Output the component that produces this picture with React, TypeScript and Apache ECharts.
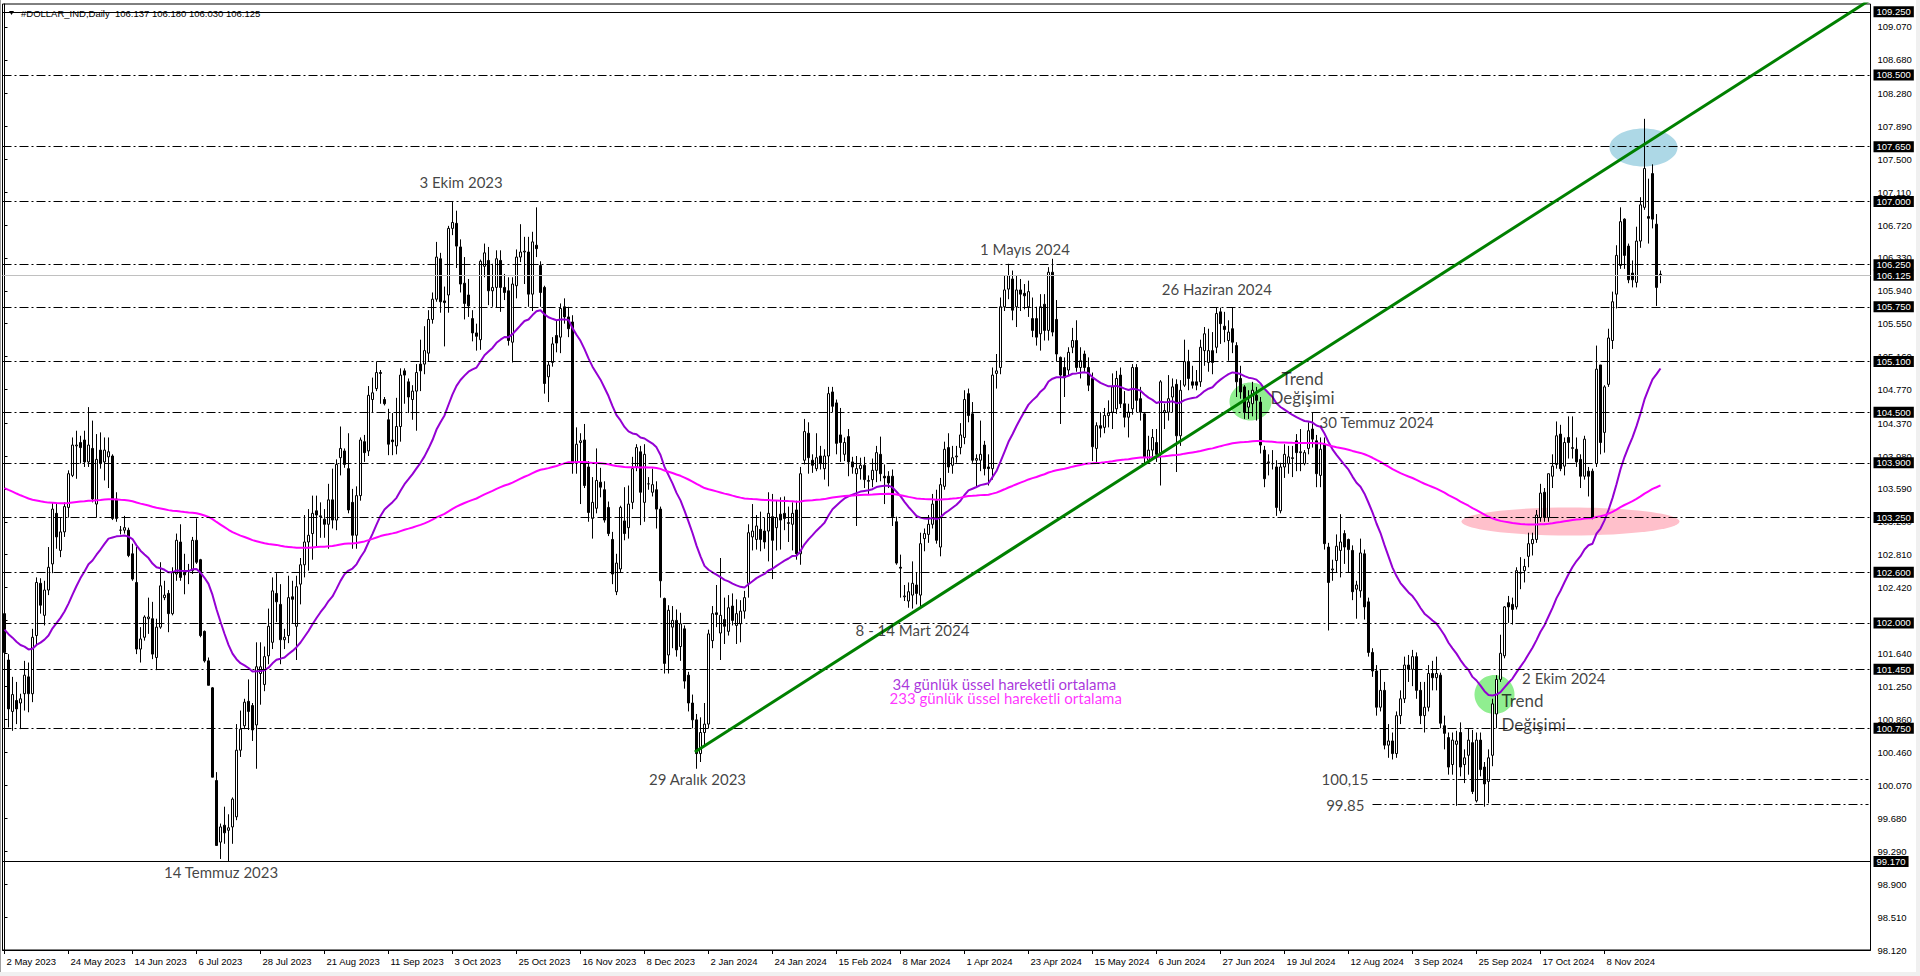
import React, { useEffect, useRef } from "react";
import * as echarts from "echarts";

// Daily bars [open, high, low, close], first bar = 2 May 2023
const bars2023a = [
  [102.11, 102.15, 101.59, 101.65], [101.56, 101.63, 100.76, 100.98], [100.95, 101.36, 100.72, 101.15], [101.08, 101.3, 100.8, 100.98],
  [101.05, 101.16, 100.74, 101.1], [101.16, 101.55, 100.96, 101.38], [101.36, 101.53, 100.94, 101.16], [101.16, 101.93, 101.06, 101.83],
  [101.85, 102.54, 101.75, 102.48], [102.47, 102.53, 102.11, 102.21], [102.09, 102.5, 101.97, 102.39], [102.39, 102.9, 102.33, 102.66],
  [102.7, 103.43, 102.59, 103.35], [103.3, 103.41, 102.88, 103.02], [102.86, 103.25, 102.78, 103.08], [103.08, 103.43, 103.02, 103.38],
  [103.37, 103.81, 103.25, 103.77], [103.75, 104.2, 103.73, 104.11], [104.1, 104.28, 103.71, 104.11], [104.14, 104.22, 103.89, 104.08],
  [104.17, 104.28, 103.85, 103.91], [103.91, 104.56, 103.85, 104.11], [104.07, 104.4, 103.43, 103.47], [103.41, 104.24, 103.25, 103.94],
  [104.05, 104.26, 103.83, 103.89], [103.91, 104.2, 103.69, 104.05], [103.97, 104.2, 103.6, 104.03], [103.98, 104.0, 103.22, 103.24],
  [103.47, 103.55, 103.2, 103.24], [103.1, 103.15, 103.05, 103.1], [103.1, 103.27, 103.06, 103.13], [103.1, 103.13, 102.78, 102.8],
  [102.82, 102.94, 102.5, 102.52], [102.48, 102.9, 101.63, 101.69], [101.69, 101.95, 101.53, 101.81], [101.83, 102.09, 101.79, 102.07],
  [102.05, 102.3, 101.87, 102.07], [102.05, 102.25, 101.57, 101.63], [101.59, 102.05, 101.44, 101.95], [101.95, 102.72, 101.93, 102.44],
  [102.3, 102.5, 102.27, 102.33], [102.35, 102.39, 101.89, 102.11], [102.11, 102.66, 102.09, 102.6], [102.58, 103.06, 102.5, 102.98],
  [102.96, 103.17, 102.5, 102.54], [102.6, 102.82, 102.34, 102.57], [102.62, 102.7, 102.46, 102.62], [102.62, 103.02, 102.58, 102.98],
  [102.98, 103.24, 102.7, 102.72], [102.75, 102.76, 101.83, 101.85], [101.9, 101.91, 101.53, 101.55], [101.55, 101.59, 101.26, 101.26],
  [101.23, 101.24, 100.17, 100.17], [100.13, 100.23, 99.36, 99.36], [99.4, 99.62, 99.2, 99.58], [99.6, 99.82, 99.38, 99.51],
  [99.54, 99.73, 99.17, 99.57], [99.58, 99.93, 99.38, 99.91], [99.7, 100.8, 99.66, 100.49], [100.49, 100.96, 100.41, 100.74],
  [100.78, 101.1, 100.74, 101.06], [101.07, 101.33, 100.73, 100.95],
];
const bars2023b = [
  [101.02, 101.05, 100.6, 100.73], [100.79, 101.77, 100.27, 101.48], [101.4, 101.77, 101.03, 101.48], [101.27, 101.72, 101.19, 101.6],
  [101.61, 102.17, 101.51, 101.96], [101.77, 102.54, 101.69, 102.38], [102.35, 102.59, 102.01, 102.25], [102.22, 102.46, 101.51, 101.8],
  [101.8, 101.93, 101.69, 101.83], [101.85, 102.56, 101.76, 102.3], [102.31, 102.5, 102.0, 102.28], [101.96, 102.56, 101.56, 102.43],
  [102.46, 102.77, 102.22, 102.69], [102.69, 103.28, 102.54, 102.96], [102.96, 103.35, 102.62, 103.04], [103.06, 103.51, 102.75, 103.3],
  [103.33, 103.51, 102.91, 103.28], [103.27, 103.43, 103.01, 103.26], [103.23, 103.35, 103.01, 103.17], [103.17, 103.65, 102.88, 103.46],
  [103.46, 103.83, 103.12, 103.22], [103.22, 103.94, 103.1, 103.88], [103.96, 104.33, 103.75, 104.07], [104.04, 104.07, 103.84, 103.88],
  [103.83, 104.25, 103.3, 103.34], [103.43, 103.59, 102.88, 103.04], [103.04, 103.62, 102.88, 103.51], [103.51, 104.2, 103.45, 104.17],
  [104.15, 104.23, 103.91, 104.02], [104.04, 104.81, 103.98, 104.7], [104.65, 104.91, 104.49, 104.73], [104.78, 105.1, 104.75, 104.97],
  [104.97, 105.0, 104.6, 104.96], [104.65, 104.68, 104.58, 104.6], [104.41, 104.54, 103.99, 104.12], [104.17, 104.49, 103.99, 104.15],
  [104.1, 104.67, 104.0, 104.33], [104.33, 105.02, 104.15, 104.94], [104.99, 105.02, 104.6, 104.94], [104.86, 104.9, 104.49, 104.68],
  [104.65, 104.82, 104.41, 104.75], [104.75, 105.07, 104.28, 104.97], [105.07, 105.36, 104.75, 104.99], [105.07, 105.52, 104.95, 105.23],
  [105.2, 105.71, 105.1, 105.6], [105.6, 105.92, 105.55, 105.84], [105.84, 106.52, 105.81, 106.34], [106.32, 106.39, 105.68, 105.81],
  [105.82, 105.99, 105.28, 105.8], [105.89, 106.71, 105.68, 106.68], [106.68, 107.0, 106.6, 106.75], [106.74, 106.89, 106.21, 106.47],
  [106.46, 106.55, 105.92, 106.02], [106.03, 106.34, 105.6, 105.79], [105.89, 106.08, 105.63, 105.76], [105.61, 105.71, 105.34, 105.44],
  [105.44, 105.55, 105.23, 105.4], [105.36, 106.31, 105.24, 106.29], [106.23, 106.5, 106.1, 106.39], [106.3, 106.46, 105.77, 105.94],
];
const bars2023c = [
  [105.94, 106.26, 105.75, 105.98], [105.98, 106.42, 105.74, 106.32], [106.3, 106.42, 105.69, 105.98], [105.98, 106.14, 105.83, 105.92],
  [105.94, 106.1, 105.29, 105.35], [105.33, 106.1, 105.09, 106.02], [106.0, 106.43, 105.85, 106.34], [106.34, 106.73, 106.28, 106.4],
  [106.4, 106.58, 106.02, 106.41], [106.4, 106.58, 105.75, 105.9], [105.9, 106.64, 105.7, 106.52], [106.48, 106.93, 106.34, 106.44],
  [106.24, 106.29, 105.75, 105.92], [105.98, 106.0, 104.72, 104.84], [104.92, 105.1, 104.62, 105.06], [105.09, 105.39, 105.04, 105.31],
  [105.41, 105.59, 105.21, 105.32], [105.39, 105.79, 105.2, 105.73], [105.75, 105.85, 105.55, 105.63], [105.63, 105.75, 105.39, 105.49],
  [105.57, 105.65, 103.77, 103.89], [103.9, 104.32, 103.77, 104.12], [104.14, 104.25, 103.41, 104.16], [104.17, 104.36, 103.6, 103.63],
  [103.85, 103.92, 103.2, 103.31], [103.24, 103.73, 103.0, 103.43], [103.36, 104.07, 103.3, 103.69], [103.67, 103.84, 103.49, 103.61],
  [103.58, 103.68, 103.19, 103.22], [103.37, 103.44, 103.03, 103.06], [102.99, 103.08, 102.46, 102.58], [102.37, 102.82, 102.33, 102.71],
  [102.64, 103.39, 102.6, 103.37], [103.21, 103.61, 102.98, 103.06], [103.13, 103.63, 103.0, 103.41], [103.43, 103.97, 103.35, 103.83],
  [103.85, 104.12, 103.8, 104.08], [104.03, 104.1, 103.16, 103.55], [103.43, 104.12, 103.2, 104.0], [103.65, 103.73, 103.58, 103.65],
  [103.55, 103.83, 103.5, 103.64], [103.58, 103.68, 103.12, 103.35], [103.35, 103.38, 102.3, 102.5], [102.29, 102.3, 101.4, 101.52],
  [101.62, 102.21, 101.4, 102.15], [101.95, 102.2, 101.7, 102.03], [102.03, 102.16, 101.6, 101.68], [101.72, 102.12, 101.55, 101.99],
  [101.93, 101.97, 101.22, 101.31], [101.38, 101.42, 100.95, 101.05], [101.05, 101.15, 100.75, 100.85], [100.85, 100.92, 100.27, 100.45],
  [100.45, 100.88, 100.35, 100.7], [100.7, 101.05, 100.55, 100.8], [100.8, 101.92, 100.75, 101.87], [101.79, 102.2, 101.7, 102.11],
  [102.12, 102.45, 101.95, 102.1],
];
const bars2024a = [
  [101.88, 102.77, 101.56, 102.09], [102.04, 102.3, 101.75, 101.96], [101.9, 102.33, 101.85, 102.18], [102.2, 102.35, 101.97, 102.03],
  [101.97, 102.28, 101.75, 102.11], [101.99, 102.27, 101.77, 102.14], [102.14, 102.38, 102.05, 102.3], [102.47, 103.17, 102.3, 103.07],
  [103.02, 103.41, 102.86, 103.09], [102.99, 103.28, 102.87, 103.15], [103.11, 103.32, 102.85, 102.99], [103.09, 103.25, 102.88, 102.96],
  [103.09, 103.55, 102.73, 103.3], [103.26, 103.53, 102.52, 102.98], [103.13, 103.45, 102.86, 103.25], [103.29, 103.49, 102.87, 103.22],
  [103.3, 103.5, 103.1, 103.24], [103.18, 103.38, 102.96, 103.19], [103.17, 103.43, 102.86, 103.3], [103.34, 103.45, 102.75, 102.82],
  [102.82, 103.85, 102.69, 103.77], [103.93, 104.42, 103.88, 104.27], [104.25, 104.38, 103.77, 103.96], [103.93, 104.0, 103.78, 103.87],
  [103.83, 104.25, 103.8, 103.96], [103.98, 104.1, 103.82, 103.89], [103.83, 104.06, 103.7, 103.98], [103.98, 104.8, 103.62, 104.72],
  [104.74, 104.8, 104.5, 104.57], [104.61, 104.65, 104.0, 104.13], [104.23, 104.55, 103.91, 104.14], [104.0, 104.2, 103.92, 104.14],
  [104.21, 104.3, 103.74, 103.91], [103.91, 103.97, 103.77, 103.85], [103.77, 103.98, 103.15, 103.83], [103.83, 103.96, 103.7, 103.87],
  [103.87, 103.97, 103.6, 103.7], [103.68, 103.75, 103.53, 103.69], [103.7, 103.95, 103.61, 103.81], [103.81, 104.1, 103.67, 104.02],
  [104.0, 104.21, 103.68, 103.77], [103.74, 103.88, 103.41, 103.72], [103.74, 103.8, 103.6, 103.66], [103.74, 103.82, 103.15, 103.26],
  [103.2, 103.26, 102.69, 102.71], [102.66, 102.81, 102.3, 102.65], [102.31, 102.45, 102.26, 102.32], [102.26, 102.48, 102.18, 102.37],
  [102.33, 102.73, 102.17, 102.47], [102.45, 102.6, 102.22, 102.35], [102.33, 103.07, 102.18, 102.94], [103.0, 103.12, 102.85, 103.06],
  [103.05, 103.28, 102.95, 103.17], [103.17, 103.53, 103.12, 103.41], [103.45, 103.58, 102.94, 102.98], [102.9, 103.72, 102.79, 103.64],
  [103.62, 104.15, 103.58, 104.06], [104.08, 104.25, 103.78, 103.85], [103.87, 104.1, 103.77, 103.96], [103.97, 104.1, 103.9, 103.98],
  [104.08, 104.37, 104.0, 104.23],
];
const bars2024b = [
  [104.2, 104.76, 104.12, 104.65], [104.72, 104.78, 104.38, 104.46], [104.48, 104.62, 103.9, 103.93], [103.93, 104.0, 103.6, 103.95],
  [103.93, 104.4, 103.8, 104.0], [104.11, 104.16, 103.75, 103.83], [103.85, 104.0, 103.63, 103.83], [103.83, 105.03, 103.7, 104.94],
  [104.96, 105.19, 104.78, 104.99], [105.03, 105.86, 104.95, 105.75], [105.75, 106.12, 105.7, 105.95], [105.96, 106.26, 105.84, 106.12],
  [106.08, 106.18, 105.59, 105.71], [105.75, 106.12, 105.51, 105.95], [105.95, 106.08, 105.7, 105.9], [105.91, 106.02, 105.72, 105.88],
  [105.75, 106.06, 105.63, 105.93], [105.61, 105.86, 105.39, 105.47], [105.61, 105.75, 105.29, 105.39], [105.43, 105.9, 105.23, 105.75],
  [105.78, 105.9, 105.35, 105.47], [105.47, 106.22, 105.35, 106.16], [106.16, 106.32, 105.4, 105.45], [105.6, 105.83, 105.1, 105.19],
  [105.15, 105.16, 104.36, 104.94], [105.03, 105.15, 104.68, 104.91], [105.0, 105.27, 104.93, 105.21], [105.27, 105.5, 105.2, 105.35],
  [105.35, 105.59, 104.98, 105.03], [105.03, 105.27, 104.9, 105.11], [105.19, 105.23, 104.98, 105.03], [105.03, 105.15, 104.75, 104.82],
  [104.9, 104.97, 103.92, 104.09], [104.07, 104.38, 103.91, 104.34], [104.34, 104.5, 104.2, 104.31], [104.32, 104.55, 104.25, 104.46],
  [104.46, 104.64, 104.32, 104.49], [104.5, 104.96, 104.3, 104.8], [104.54, 104.99, 104.48, 104.9], [104.94, 105.03, 104.55, 104.6],
  [104.6, 104.75, 104.32, 104.44], [104.44, 104.6, 104.2, 104.5], [104.54, 105.07, 104.47, 105.03], [105.03, 105.07, 104.5, 104.64],
  [104.66, 104.8, 104.4, 104.5], [104.48, 104.5, 103.89, 103.97], [103.93, 104.22, 103.89, 104.05], [104.05, 104.3, 103.97, 104.2],
  [104.14, 104.3, 103.91, 104.0], [104.0, 104.88, 103.63, 104.86], [104.5, 104.6, 104.3, 104.52], [104.5, 104.94, 104.4, 104.66],
  [104.68, 104.9, 104.5, 104.8], [104.83, 104.89, 103.79, 104.22], [104.22, 104.88, 104.1, 104.76], [104.82, 105.36, 104.8, 105.1],
  [105.1, 105.24, 104.76, 104.9], [104.86, 105.05, 104.78, 104.82], [104.86, 105.0, 104.76, 104.82], [104.86, 105.36, 104.8, 105.27],
];
const bars2024c = [
  [105.23, 105.51, 105.05, 105.43], [105.09, 105.49, 104.98, 105.23], [105.23, 105.45, 104.95, 105.09], [105.27, 105.74, 105.2, 105.67],
  [105.69, 105.74, 105.31, 105.55], [105.52, 105.69, 105.33, 105.48], [105.35, 105.59, 105.11, 105.45], [105.49, 105.74, 105.2, 105.33],
  [105.29, 105.33, 104.68, 104.86], [104.9, 105.05, 104.66, 104.74], [104.8, 104.82, 104.42, 104.5], [104.56, 104.76, 104.42, 104.62],
  [104.6, 104.86, 104.45, 104.76], [104.7, 104.8, 104.4, 104.64], [104.62, 104.68, 104.01, 104.11], [104.05, 104.1, 103.61, 103.71],
  [103.9, 104.0, 103.75, 103.91], [103.89, 104.05, 103.82, 103.89], [103.85, 103.93, 103.27, 103.37], [103.33, 103.9, 103.3, 103.85],
  [103.85, 104.12, 103.72, 104.0], [103.89, 104.1, 103.77, 103.97], [103.95, 104.1, 103.73, 103.96], [104.16, 104.24, 103.8, 104.02],
  [104.02, 104.3, 103.8, 104.03], [103.89, 104.05, 103.87, 104.02], [104.07, 104.38, 104.0, 104.28], [104.3, 104.5, 104.08, 104.18],
  [104.16, 104.23, 103.61, 103.77], [103.75, 104.2, 103.61, 104.06], [104.12, 104.2, 102.87, 102.94], [102.9, 102.95, 101.91, 102.48],
  [102.63, 102.75, 102.5, 102.64], [102.74, 103.05, 102.6, 102.91], [102.86, 103.29, 102.54, 102.96], [103.06, 103.1, 102.7, 102.9],
  [102.99, 103.0, 102.6, 102.87], [102.86, 102.92, 102.27, 102.37], [102.4, 102.5, 102.05, 102.45], [102.38, 103.0, 102.3, 102.83],
  [102.82, 102.87, 102.04, 102.19], [102.25, 102.3, 101.6, 101.65], [101.65, 101.7, 101.36, 101.43], [101.43, 101.5, 100.9, 101.0],
  [101.0, 101.45, 100.95, 101.2], [101.2, 101.3, 100.5, 100.55], [100.55, 100.8, 100.4, 100.6], [100.6, 100.7, 100.38, 100.45],
  [100.45, 100.95, 100.4, 100.9], [100.9, 101.2, 100.8, 101.1], [101.1, 101.6, 101.05, 101.5], [101.5, 101.62, 101.3, 101.45],
  [101.45, 101.68, 101.25, 101.6], [101.6, 101.65, 101.1, 101.2], [101.2, 101.3, 100.8, 100.9], [100.9, 101.3, 100.7, 101.0],
  [101.0, 101.5, 100.95, 101.4], [101.4, 101.55, 101.2, 101.35], [101.35, 101.6, 101.2, 101.4],
];
const bars2024d = [
  [101.38, 101.41, 100.75, 100.81], [100.78, 100.9, 100.5, 100.69], [100.64, 100.7, 100.2, 100.29], [100.32, 100.7, 100.2, 100.61],
  [100.56, 100.72, 99.83, 100.6], [100.7, 100.82, 100.18, 100.29], [100.32, 100.5, 100.1, 100.4], [100.43, 100.75, 100.2, 100.61],
  [100.58, 100.73, 99.97, 100.0], [99.89, 100.7, 99.87, 100.61], [100.61, 100.7, 100.18, 100.26], [100.29, 100.35, 99.82, 100.09],
  [100.12, 100.5, 99.86, 100.4], [100.43, 101.1, 100.3, 101.04], [100.92, 101.38, 100.75, 101.33], [101.33, 101.86, 101.3, 101.64],
  [101.61, 102.2, 101.58, 102.19], [102.24, 102.32, 102.0, 102.19], [102.22, 102.3, 101.98, 102.16], [102.19, 102.66, 102.16, 102.62],
  [102.59, 102.78, 102.4, 102.6], [102.62, 102.76, 102.48, 102.67], [102.79, 103.07, 102.66, 102.94], [102.94, 103.07, 102.8, 102.99],
  [102.99, 103.34, 102.95, 103.28], [103.25, 103.65, 103.2, 103.54], [103.55, 103.6, 103.2, 103.25], [103.25, 103.77, 103.2, 103.77],
  [103.74, 104.0, 103.6, 103.86], [103.88, 104.39, 103.83, 104.22], [104.24, 104.35, 103.8, 103.83], [103.86, 104.2, 103.75, 104.14],
  [104.2, 104.45, 103.95, 104.14], [104.07, 104.45, 103.95, 104.08], [104.06, 104.2, 103.85, 103.91], [103.94, 104.0, 103.6, 103.74],
  [103.74, 104.22, 103.7, 104.18], [103.8, 103.85, 103.5, 103.74], [103.8, 103.83, 103.23, 103.25], [103.89, 105.29, 103.85, 105.01],
  [105.06, 105.06, 104.0, 104.14], [104.26, 104.82, 104.02, 104.8], [104.83, 105.49, 104.8, 105.38], [105.35, 105.93, 105.25, 105.81],
  [105.9, 106.48, 105.73, 106.36], [106.24, 106.93, 106.2, 106.76], [106.79, 106.8, 106.2, 106.36], [106.47, 106.5, 106.03, 106.07],
  [106.15, 106.3, 105.98, 106.07], [106.04, 106.7, 105.98, 106.53], [106.53, 107.05, 106.45, 106.96], [106.93, 107.98, 106.9, 107.39],
  [106.82, 107.27, 106.5, 106.8], [107.33, 107.44, 106.68, 106.79], [106.73, 106.85, 105.76, 105.98], [106.137, 106.18, 106.03, 106.125],
];

// Bottom axis labels, one every 16 bars
const tickLabels = [
  "2 May 2023", "24 May 2023", "14 Jun 2023", "6 Jul 2023", "28 Jul 2023", "21 Aug 2023", "11 Sep 2023",
  "3 Oct 2023", "25 Oct 2023", "16 Nov 2023", "8 Dec 2023", "2 Jan 2024", "24 Jan 2024", "15 Feb 2024",
  "8 Mar 2024", "1 Apr 2024", "23 Apr 2024", "15 May 2024", "6 Jun 2024", "27 Jun 2024", "19 Jul 2024",
  "12 Aug 2024", "3 Sep 2024", "25 Sep 2024", "17 Oct 2024", "8 Nov 2024",
];
const scaleTicks = [
  98.12, 98.51, 98.9, 99.29, 99.68, 100.07, 100.46, 100.86, 101.25, 101.64, 102.03, 102.42, 102.81, 103.2, 103.59,
  103.98, 104.37, 104.77, 105.16, 105.55, 105.94, 106.33, 106.72, 107.11, 107.5, 107.89, 108.28, 108.68, 109.07,
];
const hiddenScaleLabels = [102.03];
const dashDotLevels = [108.5, 107.65, 107.0, 106.25, 105.75, 105.1, 104.5, 103.9, 103.25, 102.6, 102.0, 101.45, 100.75];
const solidLevels = [109.25, 99.17];
const currentPrice = 106.125;
const shortLevels = [100.15, 99.85];
const shortLevelStart = 342;
const ema34Start = 101.92;
const ema233Start = 103.6;
const trendPoints = [[172.6, 100.47], [466.5, 109.395]];

// annotations: [barIndex, price, text]
const annotations = [
  [114.15, 107.234, "3 Ekim 2023"],
  [255.1, 106.438, "1 Mayıs 2024"],
  [303.1, 105.96, "26 Haziran 2024"],
  [343.05, 104.38, "30 Temmuz 2024"],
  [227.0, 101.918, "8 - 14 Mart 2024"],
  [173.25, 100.145, "29 Aralık 2023"],
  [54.15, 99.05, "14 Temmuz 2023"],
];
const trendNotes = [
  [324.5, 104.787, "Trend\nDeğişimi"],
  [374.25, 100.937, "Trend\nDeğişimi"],
];
const maNotes = [
  [222.0, 101.281, "34 günlük üssel hareketli ortalama"],
  [221.25, 101.104, "233 günlük üssel hareketli ortalama"],
];
const sideNotes = [
  [379.4, 101.343, "2 Ekim 2024"],
];
const levelNotes = [
  [341.0, 100.145, "100,15"],
  [340.0, 99.84, "99.85"],
];
// highlight marks: [barIndex, price]
const highlightCenters = [
  [409.75, 107.64],
  [391.5, 103.203],
  [311.5, 104.627],
  [372.5, 101.151],
];

const SLOTS = 467;
const PURPLE = "#9400D3";
const MAGENTA = "#FF00FF";

function emaOf(values: number[], period: number, start: number) {
  const k = 2 / (period + 1);
  let e = start;
  return values.map((v, i) => {
    if (i > 0) e = e + k * (v - e);
    return +e.toFixed(4);
  });
}

export default function App() {
  const ref = useRef<HTMLDivElement>(null);
  useEffect(() => {
    if (!ref.current) return;
    const chart = echarts.init(ref.current, null, { renderer: "svg" });
    const bars = [...bars2023a, ...bars2023b, ...bars2023c, ...bars2024a, ...bars2024b, ...bars2024c, ...bars2024d];
    const candles = bars.map((b) => [b[0], b[3], b[2], b[1]]);
    const closes = bars.map((b) => b[3]);
    const ema34 = emaOf(closes, 34, ema34Start);
    const ema233 = emaOf(closes, 233, ema233Start);
    const isLabel = (i: number) => i % 16 === 0 && i / 16 < tickLabels.length;
    const categories = Array.from({ length: SLOTS }, (_, i) => (isLabel(i) ? tickLabels[i / 16] : String(i)));
    const scaleLabels = scaleTicks.filter((v) => hiddenScaleLabels.indexOf(v) < 0);

    const ellipseStyles = [
      { rx: 34, ry: 19, fill: "#ADD8E6" },
      { rx: 109, ry: 14, fill: "#FFC0CB" },
      { rx: 21, ry: 19, fill: "#90EE90" },
      { rx: 20, ry: 19.5, fill: "#90EE90" },
    ];

    const dash = [9, 3, 2, 3];
    const markLines: any[] = [
      ...dashDotLevels.map((v) => ({ yAxis: v, lineStyle: { color: "#000", width: 1, type: dash } })),
      ...solidLevels.map((v) => ({ yAxis: v, lineStyle: { color: "#000", width: 1, type: "solid" } })),
      { yAxis: currentPrice, lineStyle: { color: "#c0c0c0", width: 1, type: "solid" } },
      ...shortLevels.map((v) => [
        { coord: [shortLevelStart, v], lineStyle: { color: "#000", width: 1, type: dash } },
        { coord: [SLOTS - 1, v] },
      ]),
    ];

    const textFont = "Lato";
    const noteItem = (n: any[], opts: any) => ({
      value: [n[0], n[1]],
      label: {
        show: true,
        position: "inside",
        formatter: n[2],
        fontFamily: textFont,
        fontSize: 15,
        color: "#111",
        align: "center",
        verticalAlign: "middle",
        ...opts,
      },
    });
    const noteData = [
      ...annotations.map((n) => noteItem(n, {})),
      noteItem(trendNotes[0], { fontSize: 17, lineHeight: 19 }),
      noteItem(trendNotes[1], { fontSize: 17, lineHeight: 24, align: "left" }),
      noteItem(maNotes[0], { color: PURPLE, align: "left" }),
      noteItem(maNotes[1], { color: MAGENTA, align: "left" }),
      ...sideNotes.map((n) => noteItem(n, { align: "left" })),
      ...levelNotes.map((n) => noteItem(n, { align: "right" })),
    ];

    chart.setOption({
      animation: false,
      backgroundColor: "#fff",
      grid: {
        left: 2.5, right: 49.5, top: 4, bottom: 26, show: true, borderColor: "#000", borderWidth: 1,
        containLabel: false, outerBoundsMode: "none",
      },
      xAxis: [
        {
          type: "category", data: categories, boundaryGap: true, position: "bottom",
          axisLine: { show: true, lineStyle: { color: "#000", width: 1 } },
          axisTick: { show: true, alignWithLabel: true, interval: (i: number) => isLabel(i), length: 4, lineStyle: { color: "#000" } },
          axisLabel: {
            show: true, interval: (i: number) => isLabel(i), align: "left", margin: 6, fontSize: 9.5,
            color: "#000", fontFamily: "Liberation Sans", padding: [0, 0, 0, 2],
          },
          splitLine: { show: false },
        },
        { type: "value", min: -0.5, max: SLOTS - 0.5, show: false, position: "bottom" },
      ],
      yAxis: [
        {
          type: "value", position: "right", min: 98.12, max: 109.342,
          axisLine: { show: true, lineStyle: { color: "#000", width: 1 } },
          axisTick: { show: true, customValues: scaleTicks, length: 3, lineStyle: { color: "#000" } },
          axisLabel: {
            customValues: scaleLabels, formatter: (v: number) => v.toFixed(3), fontSize: 9.5, color: "#000",
            margin: 7, fontFamily: "Liberation Sans",
          },
          splitLine: { show: false },
        },
        {
          type: "value", position: "right", min: 98.12, max: 109.342, z: 10,
          axisLine: { show: false }, axisTick: { show: false },
          axisLabel: {
            customValues: [...solidLevels, ...dashDotLevels, currentPrice],
            formatter: (v: number) => v.toFixed(3), fontSize: 9.5, color: "#fff", backgroundColor: "#000",
            padding: [1, 3, 0, 3], lineHeight: 10, margin: 3, fontFamily: "Liberation Sans",
          },
          splitLine: { show: false },
        },
      ],
      series: [
        {
          type: "custom", name: "marks", xAxisIndex: 1, yAxisIndex: 0, z: 1, silent: true, clip: false,
          data: highlightCenters.map((c, i) => [c[0], c[1], i]),
          renderItem: (_p: any, api: any) => {
            const pt = api.coord([api.value(0), api.value(1)]);
            const s = ellipseStyles[api.value(2)];
            return { type: "ellipse", shape: { cx: pt[0], cy: pt[1], rx: s.rx, ry: s.ry }, style: { fill: s.fill } };
          },
        },
        {
          type: "candlestick", name: "DOLLAR_IND", xAxisIndex: 0, yAxisIndex: 0, z: 3,
          data: candles, barWidth: 2, large: false,
          itemStyle: { color: "#fff", color0: "#000", borderColor: "#000", borderColor0: "#000", borderWidth: 1 },
          markLine: { silent: true, symbol: "none", label: { show: false }, animation: false, data: markLines },
        },
        {
          type: "line", name: "EMA34", xAxisIndex: 0, yAxisIndex: 0, z: 4, data: ema34, showSymbol: false,
          symbol: "none", lineStyle: { color: PURPLE, width: 2 }, itemStyle: { color: PURPLE },
        },
        {
          type: "line", name: "EMA233", xAxisIndex: 0, yAxisIndex: 0, z: 4, data: ema233, showSymbol: false,
          symbol: "none", lineStyle: { color: MAGENTA, width: 2 }, itemStyle: { color: MAGENTA },
        },
        {
          type: "line", name: "trend", xAxisIndex: 1, yAxisIndex: 0, z: 5, data: trendPoints, showSymbol: false,
          symbol: "none", clip: true, lineStyle: { color: "#008000", width: 3 },
        },
        {
          type: "scatter", name: "notes", xAxisIndex: 1, yAxisIndex: 0, z: 6, symbolSize: 1, silent: true,
          itemStyle: { color: "rgba(0,0,0,0)" }, data: noteData,
        },
      ],
      graphic: [
        { type: "rect", shape: { x: 0, y: 972, width: 1920, height: 4 }, style: { fill: "#f0f0f0" }, silent: true },
        { type: "rect", shape: { x: 1916, y: 0, width: 4, height: 976 }, style: { fill: "#f0f0f0" }, silent: true },
        { type: "line", shape: { x1: 0.5, y1: 0, x2: 0.5, y2: 972 }, style: { stroke: "#a0a0a0", lineWidth: 1 }, silent: true },
        { type: "polygon", shape: { points: [[9, 11], [14, 11], [11.5, 15]] }, style: { fill: "#000" }, silent: true },
        {
          type: "text", x: 21, y: 13, silent: true,
          style: {
            text: "#DOLLAR_IND,Daily  106.137 106.180 106.030 106.125", fontSize: 9.5, fontFamily: "Liberation Sans",
            fill: "#000", verticalAlign: "middle",
          },
        },
      ],
    });
    return () => chart.dispose();
  }, []);
  return <div ref={ref} style={{ position: "fixed", left: 0, top: 0, width: 1920, height: 976, background: "#fff" }} />;
}
